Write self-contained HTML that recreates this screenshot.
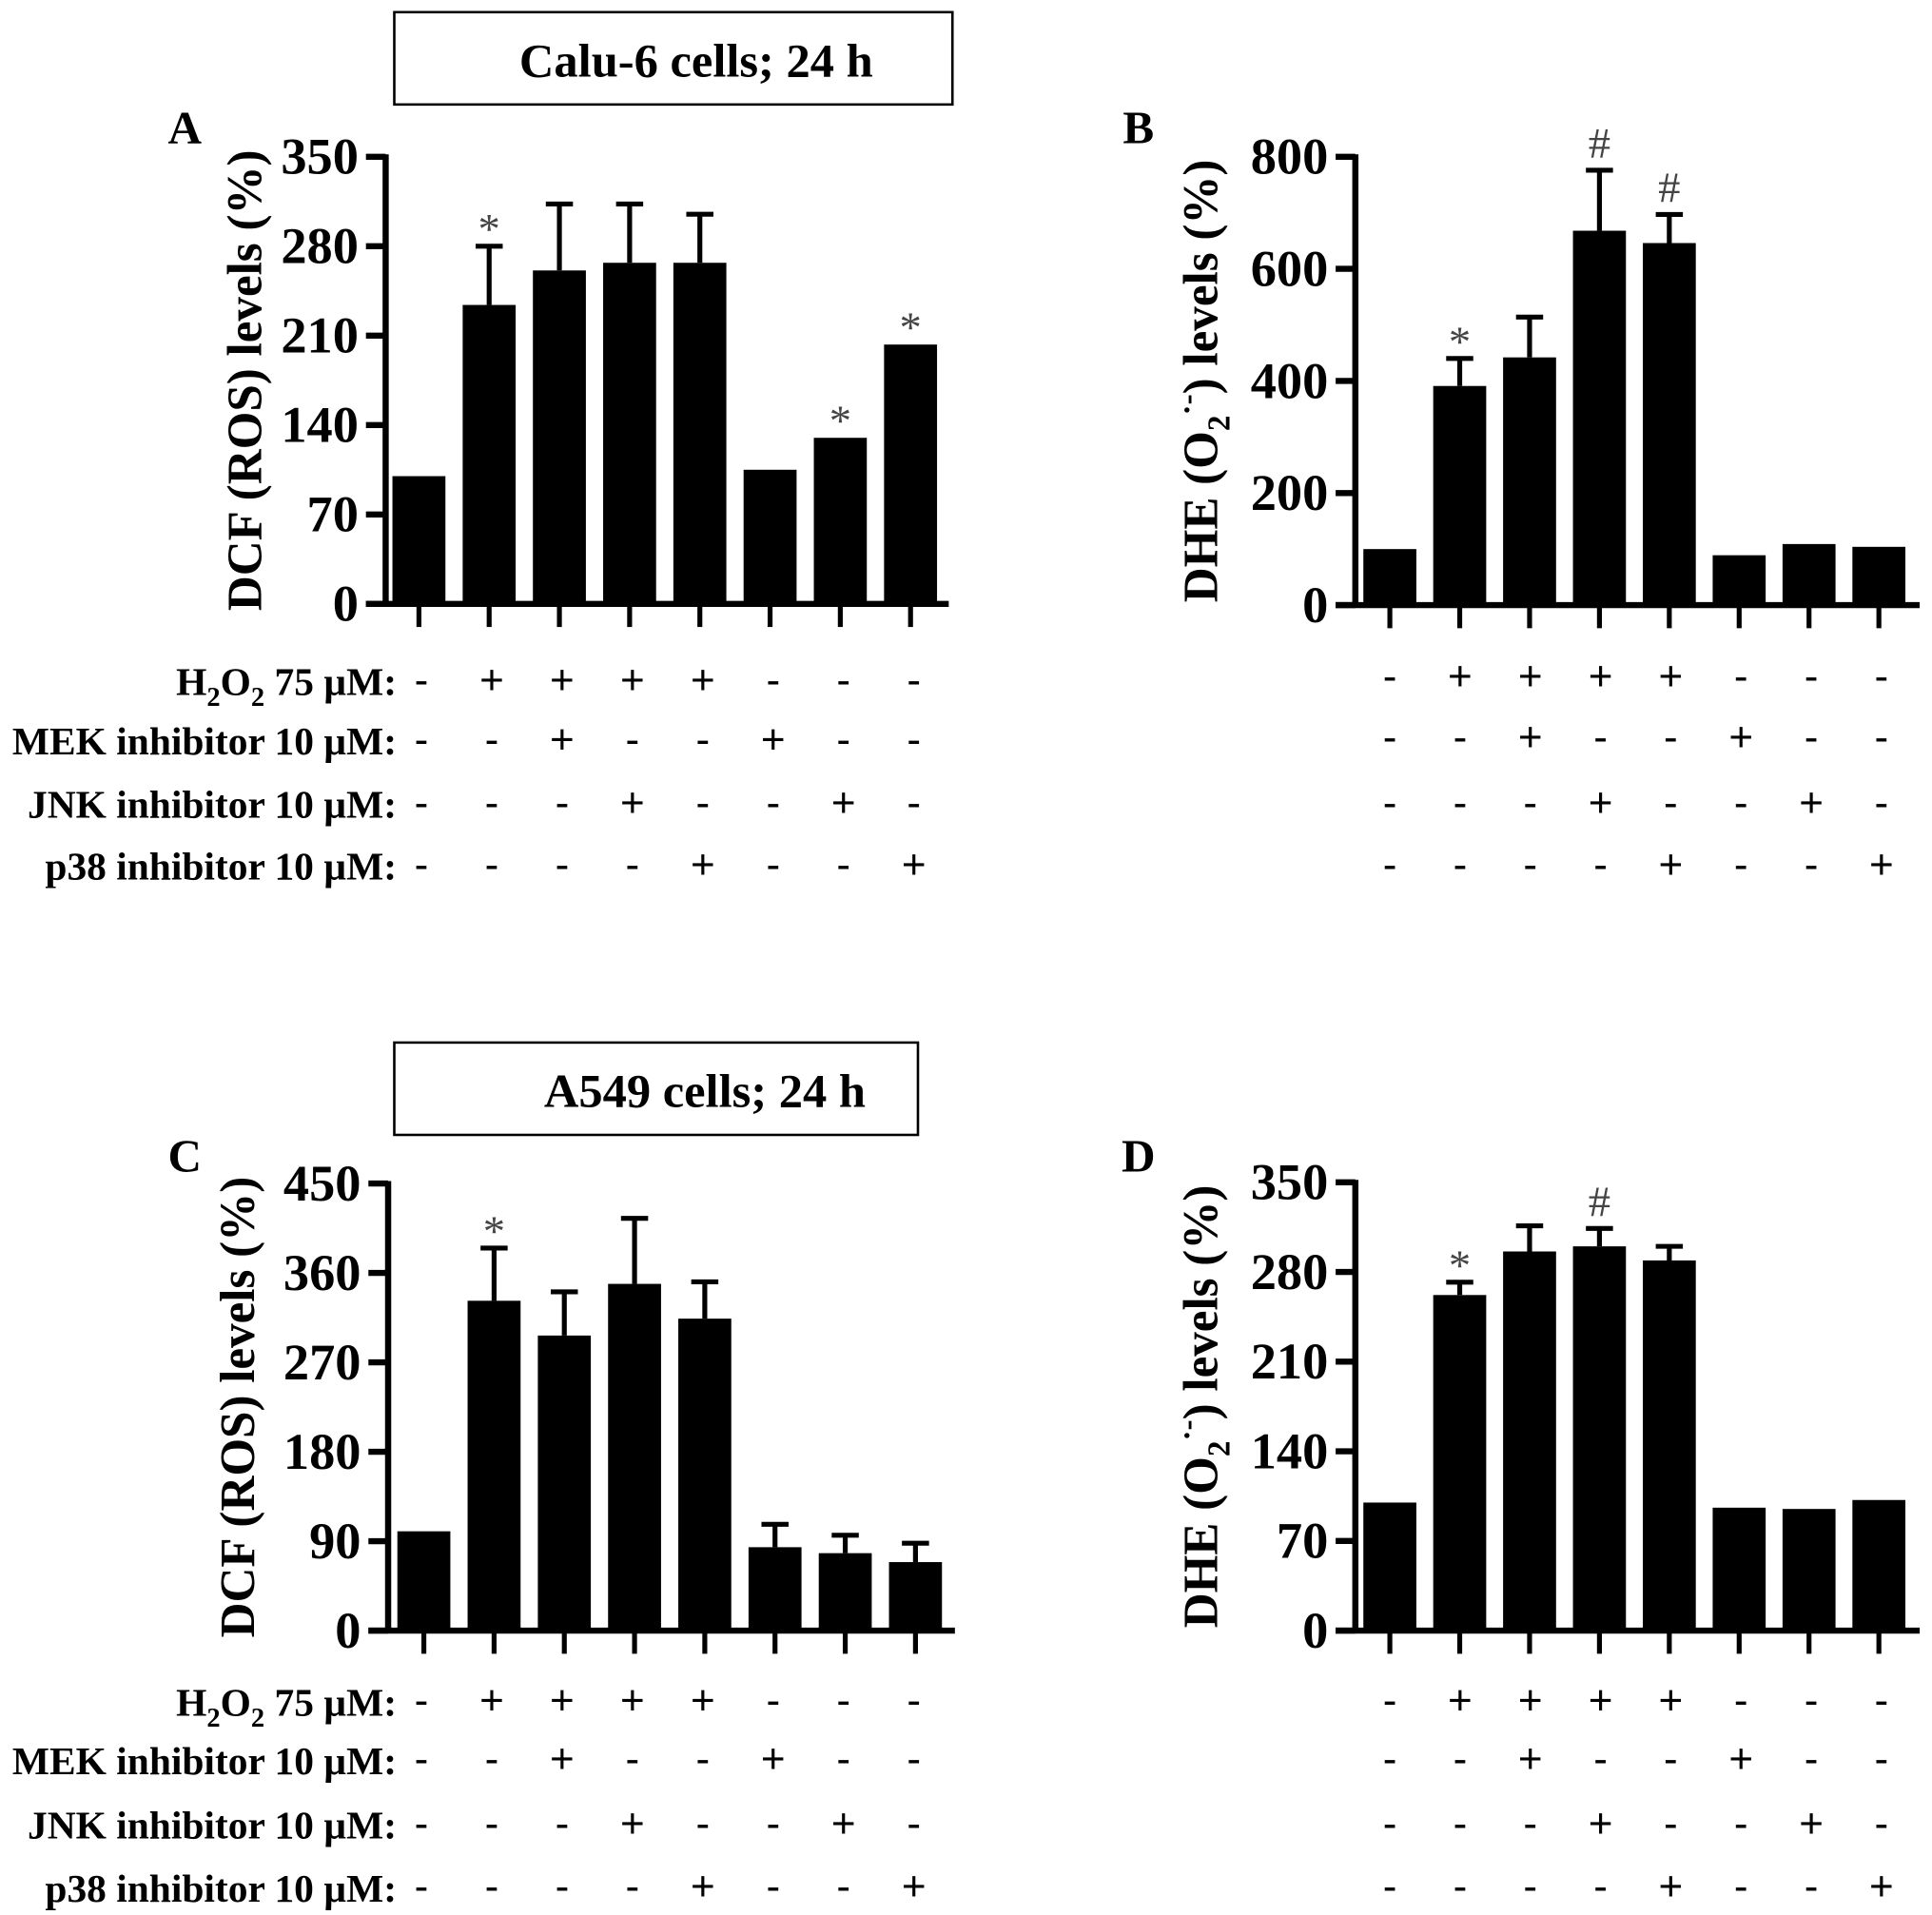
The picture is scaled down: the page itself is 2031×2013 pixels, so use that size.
<!DOCTYPE html>
<html><head><meta charset="utf-8"><style>
html,body{margin:0;padding:0;background:#fff;}
svg{display:block;}
text{font-family:"Liberation Serif",serif;}
</style></head><body>
<svg id="fig" xmlns="http://www.w3.org/2000/svg" width="2031" height="2013" viewBox="0 0 1568 1576" preserveAspectRatio="none">
<rect x="0" y="0" width="1568" height="1576" fill="#fff"/>
<g>
<rect x="320" y="10" width="453" height="76" fill="none" stroke="#000" stroke-width="2"/>
<text x="565" y="63" font-size="39" font-weight="bold" text-anchor="middle">Calu-6 cells; 24 h</text>
</g>
<g>
<rect x="320" y="858" width="425" height="76" fill="none" stroke="#000" stroke-width="2"/>
<text x="572" y="911" font-size="39" font-weight="bold" text-anchor="middle">A549 cells; 24 h</text>
</g>
<g id="panels"></g>
</svg>
<script>
// ---- data ----
const categories = ["Control","H2O2","H2O2+MEK","H2O2+JNK","H2O2+p38","MEK","JNK","p38"];
const h2o2Row = ["-","+","+","+","+","-","-","-"];
const mekRow  = ["-","-","+","-","-","+","-","-"];
const jnkRow  = ["-","-","-","+","-","-","+","-"];
const p38Row  = ["-","-","-","-","+","-","-","+"];

const aValues = [100, 234, 261, 267, 267, 105, 130, 203];
const aErrors = [0, 46, 52, 46, 38, 0, 0, 0];
const aMarks  = ["", "*", "", "", "", "", "*", "*"];
const aTicks  = [0, 70, 140, 210, 280, 350];

const bValues = [100, 391, 442, 668, 646, 89, 109, 104];
const bErrors = [0, 49, 72, 108, 51, 0, 0, 0];
const bMarks  = ["", "*", "", "#", "#", "", "", ""];
const bTicks  = [0, 200, 400, 600, 800];

const cValues = [100, 332, 297, 349, 314, 84, 78, 69];
const cErrors = [0, 53, 44, 66, 37, 23, 18, 19];
const cMarks  = ["", "*", "", "", "", "", "", ""];
const cTicks  = [0, 90, 180, 270, 360, 450];

const dValues = [100, 262, 296, 300, 289, 96, 95, 102];
const dErrors = [0, 10, 20, 14, 11, 0, 0, 0];
const dMarks  = ["", "*", "", "#", "", "", "", ""];
const dTicks  = [0, 70, 140, 210, 280, 350];

const NS = "http://www.w3.org/2000/svg";
const root = document.getElementById("panels");
function mk(tag, attrs, parent){
  const e = document.createElementNS(NS, tag);
  for (const k in attrs) e.setAttribute(k, attrs[k]);
  (parent||root).appendChild(e);
  return e;
}

function panel(cfg){
  const g = mk("g", {});
  
  
  const max = cfg.ticks[cfg.ticks.length-1];
  const yScale = v => cfg.y0 - (v/max)*(cfg.y0 - cfg.yTop);
  const xScale = i => cfg.x0 + cfg.xStart + i*cfg.step;
  const L = mk("text", {x: cfg.letterX, y: cfg.letterY, "font-size": 38, "font-weight": "bold", "text-anchor": "middle"}, g);
  L.textContent = cfg.id;
  
  
  cfg.values.forEach((v, i) => {
    const cx = xScale(i);
    const top = yScale(v);
    const r = mk("rect", {x: cx - 21.5, y: top, width: 43, height: cfg.y0 - top, fill: "#000"}, g);
    
    
    if (cfg.errors[i] > 0) {
      const et = yScale(v + cfg.errors[i]);
      const eb = mk("path", {d: `M${cx} ${top} V${et} M${cx-11} ${et} H${cx+11}`, stroke: "#000", "stroke-width": 4, fill: "none"}, g);
      
      
    }
    if (cfg.marks[i]) {
      const base = cfg.errors[i] > 0 ? yScale(v + cfg.errors[i]) : top;
      const s = mk("text", {x: cx, y: base - (cfg.marks[i] === "*" ? 2 : 10), "font-size": 36, fill: "#444", "text-anchor": "middle"}, g);
      s.textContent = cfg.marks[i];
      
      
    }
    const t = mk("line", {x1: cx, y1: cfg.y0, x2: cx, y2: cfg.y0 + 19, stroke: "#000", "stroke-width": 4}, g);
    
    
  });
  const ya = mk("line", {x1: cfg.x0, y1: cfg.yTop - 2, x2: cfg.x0, y2: cfg.y0, stroke: "#000", "stroke-width": 5}, g);
  
  
  const xa = mk("line", {x1: cfg.x0 - 16, y1: cfg.y0, x2: cfg.x0 + cfg.xEnd, y2: cfg.y0, stroke: "#000", "stroke-width": 5}, g);
  
  
  cfg.ticks.forEach(tv => {
    const y = yScale(tv);
    const tk = mk("line", {x1: cfg.x0 - 16, y1: y, x2: cfg.x0, y2: y, stroke: "#000", "stroke-width": 5}, g);
    
    
    const tl = mk("text", {x: cfg.x0 - 22, y: y + 14, "font-size": 42, "font-weight": "bold", "text-anchor": "end"}, g);
    tl.textContent = tv;
    
    
  });
  const cy = (cfg.y0 + cfg.yTop) / 2;
  const yt = mk("text", {x: 0, y: 0, "font-size": 40, "font-weight": "bold", "text-anchor": "middle", transform: `translate(${cfg.titleX},${cy}) rotate(-90)`}, g);
  
  
  if (cfg.dhe) {
    yt.innerHTML = 'DHE (O<tspan font-size="26" dy="10">2</tspan><tspan font-size="26" dy="-26">·-</tspan><tspan dy="16">) levels (%)</tspan>';
  } else {
    yt.textContent = 'DCF (ROS) levels (%)';
  }
  const rows = [h2o2Row, mekRow, jnkRow, p38Row];
  const labels = ['H<tspan font-size="22" dy="9">2</tspan><tspan dy="-9">O</tspan><tspan font-size="22" dy="9">2</tspan><tspan dy="-9"> 75 µM:</tspan>',
                  'MEK inhibitor 10 µM:', 'JNK inhibitor 10 µM:', 'p38 inhibitor 10 µM:'];
  rows.forEach((row, r) => {
    const ry = cfg.rowY[r];
    if (cfg.labels) {
      const lt = mk("text", {x: 322, y: ry + 12, "font-size": 32, "font-weight": "bold", "text-anchor": "end"}, g);
      lt.innerHTML = labels[r];
      
      
    }
    row.forEach((s, i) => {
      const mt = mk("text", {x: cfg.markX0 + i*cfg.markStep, y: ry + 11, "font-size": 34, "text-anchor": "middle", style: 'font-family:"Liberation Sans",sans-serif'}, g);
      mt.textContent = s;
      
      
    });
  });
}

panel({id:"A", values:aValues, errors:aErrors, marks:aMarks, ticks:aTicks, x0:313, yTop:129, y0:497, xStart:27, step:57, xEnd:457,
  letterX:150, letterY:118, titleX:212, rowY:[560,609,661,712], labels:true, markX0:342, markStep:57.1});
panel({id:"B", values:bValues, errors:bErrors, marks:bMarks, ticks:bTicks, dhe:true, x0:1100, yTop:129, y0:498, xStart:28, step:56.7, xEnd:458,
  letterX:924, letterY:118, titleX:988, rowY:[557,607,661,712], labels:false, markX0:1128, markStep:57});
panel({id:"C", values:cValues, errors:cErrors, marks:cMarks, ticks:cTicks, x0:315, yTop:974, y0:1342, xStart:29, step:57, xEnd:460,
  letterX:150, letterY:964, titleX:206, rowY:[1400,1448,1501,1553], labels:true, markX0:342, markStep:57.1});
panel({id:"D", values:dValues, errors:dErrors, marks:dMarks, ticks:dTicks, dhe:true, x0:1100, yTop:973, y0:1342, xStart:28, step:56.7, xEnd:458,
  letterX:924, letterY:964, titleX:988, rowY:[1400,1448,1501,1553], labels:false, markX0:1128, markStep:57});
</script>
</body></html>
